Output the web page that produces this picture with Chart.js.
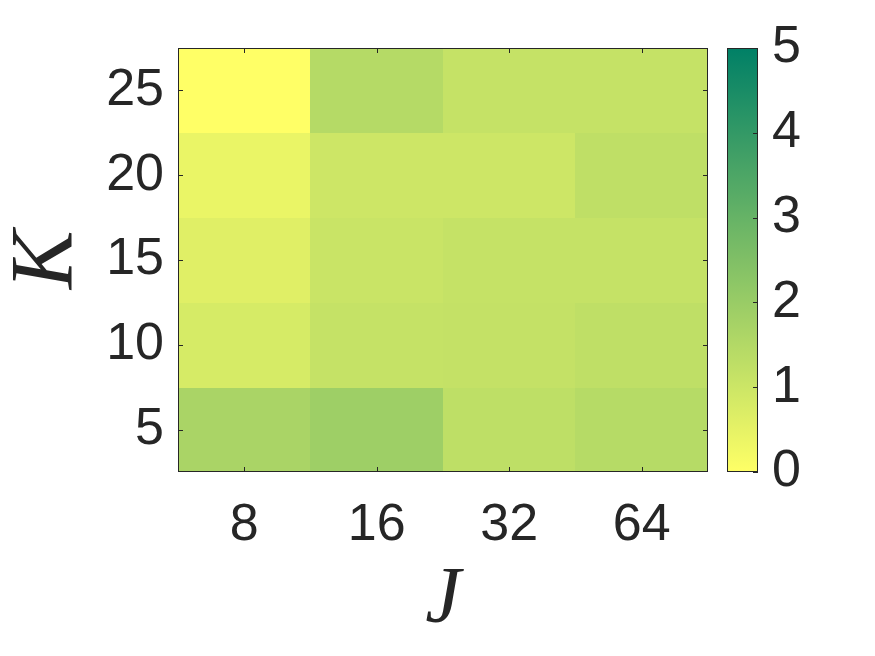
<!DOCTYPE html>
<html>
<head>
<meta charset="utf-8">
<script src="https://cdn.jsdelivr.net/npm/chart.js@4"></script>
<style>
  html, body { margin: 0; padding: 0; background: #fff; }
  canvas { display: block; }
</style>
</head>
<body>
<canvas id="grafico" width="875" height="656"></canvas>
<script>
// categorie
const valoriJ = ['8', '16', '32', '64'];
const valoriK = [5, 10, 15, 20, 25];
// valori per riga (K), colonne J = 8, 16, 32, 64
const rigaK5 = [1.67, 1.90, 1.27, 1.43];
const rigaK10 = [0.80, 1.14, 1.16, 1.25];
const rigaK15 = [0.61, 1.06, 1.14, 1.14];
const rigaK20 = [0.41, 0.98, 0.98, 1.25];
const rigaK25 = [0.00, 1.45, 1.14, 1.14];
const righe = [rigaK5, rigaK10, rigaK15, rigaK20, rigaK25];
// scala colori
const tickColorbar = [0, 1, 2, 3, 4, 5];
const minColore = 0;
const maxColore = 5;

const coloreTesto = '#262626';

function colore(v) {
    const s = Math.min(1, Math.max(0, (v - minColore) / (maxColore - minColore)));
    const r = Math.round(255 * (1 - s));
    const g = Math.round(255 * (1 - s / 2));
    return 'rgb(' + r + ',' + g + ',102)';
}

const celle = [];
righe.forEach((riga, i) => {
    riga.forEach((v, j) => {
        celle.push({ x: j + 1, y: valoriK[i], v: v });
    });
});

const pluginMappa = {
    id: 'mappa',
    beforeDatasetsDraw(chart) {
        const ctx = chart.ctx;
        const xs = chart.scales.x;
        const ys = chart.scales.y;
        const meta = chart.data.datasets[0].data;
        const passoK = valoriK[1] - valoriK[0];
        ctx.save();
        meta.forEach(c => {
            const x0 = xs.getPixelForValue(c.x - 0.5);
            const x1 = xs.getPixelForValue(c.x + 0.5);
            const y0 = ys.getPixelForValue(c.y + passoK / 2);
            const y1 = ys.getPixelForValue(c.y - passoK / 2);
            ctx.fillStyle = colore(c.v);
            ctx.fillRect(Math.floor(x0), Math.floor(y0), Math.ceil(x1) - Math.floor(x0), Math.ceil(y1) - Math.floor(y0));
        });
        ctx.restore();
    },
    afterDraw(chart) {
        const ctx = chart.ctx;
        const a = chart.chartArea;
        const xs = chart.scales.x;
        const ys = chart.scales.y;
        const cb = chart.scales.cb;
        const lt = 5;
        ctx.save();
        ctx.strokeStyle = coloreTesto;
        ctx.lineWidth = 1;
        // cornice
        ctx.strokeRect(a.left + 0.5, a.top + 0.5, a.right - a.left - 1, a.bottom - a.top - 1);
        ctx.beginPath();
        xs.ticks.forEach(t => {
            const px = Math.round(xs.getPixelForValue(t.value)) + 0.5;
            ctx.moveTo(px, a.bottom);
            ctx.lineTo(px, a.bottom - lt);
            ctx.moveTo(px, a.top);
            ctx.lineTo(px, a.top + lt);
        });
        ys.ticks.forEach(t => {
            const py = Math.round(ys.getPixelForValue(t.value)) + 0.5;
            ctx.moveTo(a.left, py);
            ctx.lineTo(a.left + lt, py);
            ctx.moveTo(a.right, py);
            ctx.lineTo(a.right - lt, py);
        });
        ctx.stroke();

        // barra colori
        const bx0 = a.right + 19;
        const bx1 = a.right + 50;
        const by0 = cb.getPixelForValue(maxColore);
        const by1 = cb.getPixelForValue(minColore);
        const grad = ctx.createLinearGradient(0, by1, 0, by0);
        for (let k = 0; k <= 20; k++) {
            grad.addColorStop(k / 20, colore(minColore + (maxColore - minColore) * k / 20));
        }
        ctx.fillStyle = grad;
        ctx.fillRect(bx0, by0, bx1 - bx0, by1 - by0);
        ctx.strokeRect(bx0 + 0.5, by0 + 0.5, bx1 - bx0 - 1, by1 - by0 - 1);
        ctx.beginPath();
        cb.ticks.forEach(t => {
            const py = Math.round(cb.getPixelForValue(t.value)) + 0.5;
            ctx.moveTo(bx1, py);
            ctx.lineTo(bx1 - 5, py);
        });
        ctx.stroke();
        ctx.restore();
    }
};

const fontTick = { family: 'Liberation Sans, Arial, sans-serif', size: 52 };
const fontJ = { family: 'Liberation Serif, Times New Roman, serif', size: 80, style: 'italic', lineHeight: 1 };
const fontK = { family: 'Liberation Serif, Times New Roman, serif', size: 88, style: 'italic', lineHeight: 1 };

function senzaPadding(s) {
    s.paddingTop = 0;
    s.paddingBottom = 0;
    s.paddingLeft = 0;
    s.paddingRight = 0;
}

new Chart(document.getElementById('grafico').getContext('2d'), {
    type: 'scatter',
    data: {
        datasets: [{
            data: celle,
            pointRadius: 0,
            pointHoverRadius: 0
        }]
    },
    options: {
        responsive: false,
        animation: false,
        events: [],
        layout: { padding: { top: 48, right: 0, left: 0, bottom: 0 } },
        plugins: {
            legend: { display: false },
            tooltip: { enabled: false }
        },
        scales: {
            x: {
                type: 'linear',
                min: 0.5,
                max: valoriJ.length + 0.5,
                afterBuildTicks: s => { s.ticks = valoriJ.map((_, i) => ({ value: i + 1 })); },
                afterFit: s => { s.height = 184; senzaPadding(s); },
                grid: { display: false, drawTicks: false },
                border: { display: false },
                ticks: {
                    font: fontTick,
                    color: coloreTesto,
                    padding: 22,
                    maxRotation: 0,
                    callback: v => valoriJ[v - 1]
                },
                title: { display: true, text: 'J', font: fontJ, color: coloreTesto, padding: { top: 0, bottom: 15 } }
            },
            y: {
                type: 'linear',
                min: valoriK[0] - 2.5,
                max: valoriK[valoriK.length - 1] + 2.5,
                afterBuildTicks: s => { s.ticks = valoriK.map(k => ({ value: k })); },
                afterFit: s => { s.width = 178; senzaPadding(s); },
                grid: { display: false, drawTicks: false },
                border: { display: false },
                ticks: { font: fontTick, color: coloreTesto, padding: 14 },
                title: { display: true, text: 'K', font: fontK, color: coloreTesto, padding: { top: 4, bottom: 0 } }
            },
            cb: {
                type: 'linear',
                position: 'right',
                min: minColore,
                max: maxColore,
                afterBuildTicks: s => { s.ticks = tickColorbar.map(t => ({ value: t })); },
                afterFit: s => { s.width = 167; senzaPadding(s); },
                grid: { display: false, drawTicks: false },
                border: { display: false },
                ticks: { font: fontTick, color: coloreTesto, padding: 64 }
            }
        }
    },
    plugins: [pluginMappa]
});
</script>
</body>
</html>
